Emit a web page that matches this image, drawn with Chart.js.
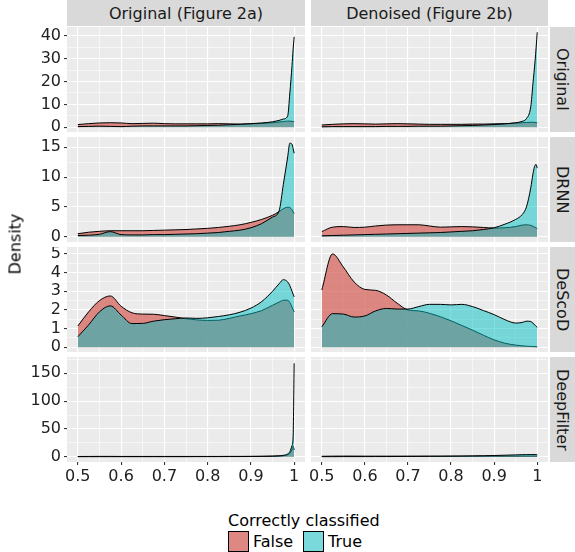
<!DOCTYPE html>
<html>
<head>
<meta charset="utf-8">
<script src="https://cdn.jsdelivr.net/npm/chart.js"></script>
<style>
body { margin: 0; width: 575px; height: 552px; background: #fff; position: relative; overflow: hidden; font-family: 'DejaVu Sans', sans-serif; }
canvas { position: absolute; }
.strip { position: absolute; background: #D9D9D9; color: #1A1A1A; font-size: 16px; display: flex; align-items: center; justify-content: center; white-space: nowrap; }
.vert { writing-mode: vertical-rl; }
.ytitle { position: absolute; left: 15px; top: 244px; transform: translate(-50%, -50%) rotate(-90deg); font-size: 16px; color: #000; white-space: nowrap; }
.legtitle { position: absolute; left: 228px; top: 511px; font-size: 16px; color: #000; }
.key { position: absolute; top: 531px; width: 19px; height: 19px; background: #F2F2F2; border: 1px solid #000; }
.keyfill { width: 100%; height: 100%; }
.keylab { position: absolute; top: 531px; font-size: 16px; color: #000; line-height: 21px; }
</style>
</head>
<body>
<script>
// facets
const colLabels = ['Original (Figure 2a)', 'Denoised (Figure 2b)'];
const rowLabels = ['Original', 'DRNN', 'DeScoD', 'DeepFilter'];
const seriesLabels = ['False', 'True'];

// density evaluation points (score)
const densityX = [0.5, 0.525, 0.55, 0.575, 0.6, 0.625, 0.65, 0.675, 0.7, 0.725, 0.75, 0.775, 0.8,
  0.825, 0.85, 0.875, 0.9, 0.925, 0.95, 0.965, 0.975, 0.985, 0.99, 0.995, 0.9975, 1];

// Original row
const falseOrig2a = [1.2,1.6,1.9,2.0,1.9,1.6,1.7,1.8,1.6,1.5,1.5,1.5,1.5,1.6,1.5,1.4,1.5,1.7,2.0,2.3,2.5,2.7,2.7,2.6,2.5,2.5];
const trueOrig2a  = [0.3,0.4,0.5,0.4,0.3,0.5,0.6,0.6,0.6,0.6,0.6,0.7,0.8,0.9,1.1,1.3,1.6,1.9,2.4,3.0,3.6,5.0,15,27,34,39.5];
const falseOrig2b = [1.0,1.3,1.5,1.6,1.5,1.4,1.5,1.6,1.5,1.4,1.3,1.3,1.3,1.3,1.4,1.4,1.5,1.6,1.8,2.0,2.1,2.2,2.2,2.1,2.0,2.0];
const trueOrig2b  = [0.2,0.3,0.3,0.3,0.3,0.3,0.4,0.4,0.4,0.5,0.5,0.5,0.6,0.7,0.8,1.0,1.2,1.5,2.0,2.6,3.8,9,19,29,35,41.5];
// DRNN row
const falseDrnn2a = [0.5,0.75,0.9,1.0,1.0,1.0,1.0,1.05,1.1,1.15,1.2,1.3,1.4,1.55,1.75,2.0,2.4,2.9,3.6,4.2,4.7,4.95,4.9,4.5,4.2,3.9];
const trueDrnn2a  = [0.2,0.25,0.4,0.85,0.35,0.3,0.3,0.35,0.35,0.4,0.45,0.5,0.6,0.7,0.9,1.1,1.5,2.2,3.3,4.3,8.8,13.4,15.7,15.5,14.8,14.0];
const falseDrnn2b = [0.85,1.6,1.7,1.55,1.6,1.8,1.95,2.0,2.0,2.0,1.8,1.6,1.65,1.7,1.65,1.55,1.45,1.5,1.7,1.95,2.0,1.9,1.75,1.55,1.45,1.4];
const trueDrnn2b  = [0.15,0.2,0.25,0.3,0.35,0.4,0.45,0.5,0.55,0.6,0.65,0.7,0.8,0.9,1.0,1.2,1.5,2.1,2.9,3.7,5.0,8.2,10.5,12.0,12.1,11.5];
// DeScoD row
const falseDescod2a = [1.14,1.9,2.5,2.75,2.2,1.85,1.78,1.77,1.7,1.62,1.53,1.47,1.44,1.45,1.55,1.68,1.8,1.97,2.25,2.42,2.52,2.52,2.4,2.15,2.02,1.9];
const trueDescod2a  = [0.57,1.2,1.9,2.22,1.73,1.27,1.28,1.4,1.48,1.53,1.57,1.55,1.58,1.65,1.74,1.88,2.1,2.45,3.0,3.4,3.62,3.5,3.3,3.0,2.85,2.7];
const falseDescod2b = [3.07,5.0,4.3,3.5,3.1,3.05,2.8,2.36,2.0,1.95,1.82,1.64,1.42,1.17,0.92,0.65,0.4,0.22,0.12,0.08,0.06,0.05,0.04,0.04,0.03,0.03];
const trueDescod2b  = [1.1,1.8,1.78,1.62,1.68,1.95,2.08,2.05,2.05,2.18,2.3,2.3,2.27,2.3,2.18,1.97,1.75,1.48,1.3,1.33,1.4,1.38,1.3,1.18,1.12,1.07];
// DeepFilter row
const falseDeep2a = [0.4,0.5,0.6,0.6,0.5,0.5,0.5,0.5,0.5,0.5,0.5,0.5,0.5,0.5,0.6,0.6,0.7,0.8,1.0,1.3,1.8,3.5,6,13,19,12];
const trueDeep2a  = [0.1,0.1,0.1,0.1,0.1,0.1,0.1,0.1,0.1,0.1,0.1,0.2,0.2,0.2,0.3,0.3,0.4,0.6,1.0,1.6,2.5,5,9,20,35,168];
const falseDeep2b = [0.8,1.0,1.1,1.1,1.0,1.0,1.0,1.0,1.0,1.0,1.0,1.0,1.0,1.0,1.0,1.0,1.0,1.1,1.1,1.2,1.2,1.2,1.2,1.2,1.2,1.2];
const trueDeep2b  = [0.1,0.1,0.2,0.2,0.2,0.3,0.3,0.4,0.5,0.6,0.7,0.8,1.0,1.2,1.5,1.8,2.2,2.7,3.3,3.6,3.8,3.9,3.9,3.8,3.7,3.6];

// axes
const xBreaks = [0.5, 0.6, 0.7, 0.8, 0.9, 1];
const xLimits = [0.475, 1.025];
const yBreaks = [[0, 10, 20, 30, 40], [0, 5, 10, 15], [0, 1, 2, 3, 4, 5], [0, 50, 100, 150]];
const yLimits = [[-2.05, 43.8], [-0.89, 16.73], [-0.25, 5.37], [-9.5, 179.3]];

const panelData = [
  [[falseOrig2a, trueOrig2a], [falseOrig2b, trueOrig2b]],
  [[falseDrnn2a, trueDrnn2a], [falseDrnn2b, trueDrnn2b]],
  [[falseDescod2a, trueDescod2a], [falseDescod2b, trueDescod2b]],
  [[falseDeep2a, trueDeep2a], [falseDeep2b, trueDeep2b]]
];

const fills = ['rgba(214,100,92,0.75)', 'rgba(0,191,196,0.5)'];

// layout (pixels)
const TOP0 = 27, ROW_STEP = 110, PANEL_H = 105, XAXIS_H = 25;
const LEFT_X = 67, RIGHT_X = 311, PANEL_W = 238;

Chart.defaults.font.family = "'DejaVu Sans', sans-serif";
Chart.defaults.font.size = 16;
Chart.defaults.color = '#222';

const panelBg = {
  id: 'panelBg',
  beforeDraw(chart) {
    const a = chart.chartArea, ctx = chart.ctx;
    ctx.save();
    ctx.fillStyle = '#EBEBEB';
    ctx.fillRect(a.left, a.top, a.right - a.left, a.bottom - a.top);
    ctx.restore();
  }
};

function withMinor(major, lo, hi) {
  const step = major[1] - major[0];
  const ext = [major[0] - step, ...major, major[major.length - 1] + step];
  const out = major.map(v => ({ value: v, minor: false }));
  for (let i = 0; i < ext.length - 1; i++) {
    const m = (ext[i] + ext[i + 1]) / 2;
    if (m >= lo && m <= hi) out.push({ value: m, minor: true });
  }
  return out.sort((a, b) => a.value - b.value);
}

function gridOpts(show) {
  return {
    color: '#FFFFFF',
    lineWidth: c => (c.tick && c.tick.minor ? 0.55 : 1.1),
    tickColor: c => (c.tick && c.tick.minor ? 'rgba(0,0,0,0)' : '#333'),
    tickWidth: 1.1,
    tickLength: 3,
    drawTicks: show
  };
}

function fmt(v, i, ticks) {
  if (ticks[i].minor) return '';
  return String(Math.round(v * 10) / 10);
}

function makePanel(r, c) {
  const showY = c === 0, showX = r === rowLabels.length - 1;
  const canvas = document.createElement('canvas');
  const cLeft = showY ? 0 : 300;
  const padL = showY ? 0 : RIGHT_X - 300;
  const w = showY ? LEFT_X + PANEL_W : padL + 237;
  const h = PANEL_H + (showX ? XAXIS_H : 0);
  canvas.width = w; canvas.height = h;
  canvas.style.left = cLeft + 'px';
  canvas.style.top = (TOP0 + r * ROW_STEP) + 'px';
  canvas.style.width = w + 'px'; canvas.style.height = h + 'px';
  document.body.appendChild(canvas);

  const datasets = seriesLabels.map((lab, s) => ({
    label: lab,
    data: densityX.map((x, i) => ({ x: x, y: panelData[r][c][s][i] })),
    fill: 'origin',
    backgroundColor: fills[s],
    borderColor: '#000',
    borderWidth: 1,
    pointRadius: 0,
    cubicInterpolationMode: 'monotone',
    order: s === 0 ? 2 : 1
  }));

  new Chart(canvas, {
    type: 'line',
    data: { datasets: datasets },
    plugins: [panelBg],
    options: {
      animation: false,
      responsive: false,
      events: [],
      layout: { padding: { left: padL, right: 0, top: 0, bottom: 0 } },
      plugins: { legend: { display: false }, tooltip: { enabled: false } },
      scales: {
        x: {
          type: 'linear',
          min: xLimits[0], max: xLimits[1],
          afterBuildTicks: s => { s.ticks = withMinor(xBreaks, xLimits[0], xLimits[1]); },
          afterFit: s => { s.height = showX ? XAXIS_H : 0; s.paddingLeft = 0; s.paddingRight = 0; },
          ticks: { display: showX, autoSkip: false, maxRotation: 0, minRotation: 0, padding: 2, callback: fmt },
          grid: gridOpts(showX),
          border: { display: false }
        },
        y: {
          type: 'linear',
          min: yLimits[r][0], max: yLimits[r][1],
          afterBuildTicks: s => { s.ticks = withMinor(yBreaks[r], yLimits[r][0], yLimits[r][1]); },
          afterFit: s => { s.width = showY ? LEFT_X : 0; s.paddingTop = 0; s.paddingBottom = 0; },
          ticks: { display: showY, autoSkip: false, padding: 3, callback: fmt },
          grid: gridOpts(showY),
          border: { display: false }
        }
      }
    }
  });
}

rowLabels.forEach((_, r) => colLabels.forEach((_, c) => makePanel(r, c)));

// strips
colLabels.forEach((lab, c) => {
  const d = document.createElement('div');
  d.className = 'strip';
  d.style.left = (c === 0 ? LEFT_X : RIGHT_X) + 'px';
  d.style.top = '0px';
  d.style.width = (c === 0 ? PANEL_W : 237) + 'px';
  d.style.height = (TOP0 - 1) + 'px';
  d.textContent = lab;
  document.body.appendChild(d);
});
rowLabels.forEach((lab, r) => {
  const d = document.createElement('div');
  d.className = 'strip vert';
  d.style.left = '550px';
  d.style.top = (TOP0 + r * ROW_STEP) + 'px';
  d.style.width = '25px';
  d.style.height = PANEL_H + 'px';
  d.textContent = lab;
  document.body.appendChild(d);
});

// axis title and legend
const yt = document.createElement('div');
yt.className = 'ytitle'; yt.textContent = 'Density';
document.body.appendChild(yt);

const lt = document.createElement('div');
lt.className = 'legtitle'; lt.textContent = 'Correctly classified';
document.body.appendChild(lt);

const keyX = [228, 303];
seriesLabels.forEach((lab, s) => {
  const k = document.createElement('div');
  k.className = 'key'; k.style.left = keyX[s] + 'px';
  const f = document.createElement('div');
  f.className = 'keyfill'; f.style.background = fills[s];
  k.appendChild(f);
  document.body.appendChild(k);
  const t = document.createElement('div');
  t.className = 'keylab'; t.style.left = (keyX[s] + 25) + 'px'; t.textContent = lab;
  document.body.appendChild(t);
});
</script>
</body>
</html>
